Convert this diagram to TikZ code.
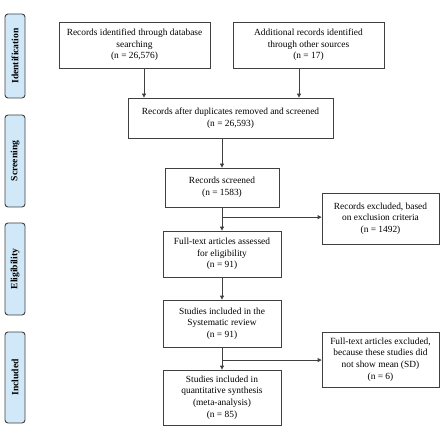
\documentclass[tikz,border=0pt]{standalone}
\usepackage{fontspec}
\setmainfont{Liberation Serif}
\usetikzlibrary{arrows.meta,calc}
\definecolor{sidefill}{HTML}{D0E8F8}
\definecolor{linegray}{HTML}{404040}
\tikzset{
  box/.style={draw=linegray,line width=0.8pt,fill=white,align=center,inner sep=1pt,
    font=\fontsize{9.4}{11.6}\selectfont},
  side/.style={draw=linegray,line width=0.9pt,fill=sidefill,rounded corners=3pt,
    minimum width=20pt,inner sep=0pt},
  sidetext/.style={rotate=90,font=\fontsize{9.6}{10}\selectfont\bfseries},
  arr/.style={draw=linegray,line width=0.8pt,-{Triangle[length=4pt,width=4pt]}},
  ln/.style={draw=linegray,line width=0.8pt}
}
\begin{document}
\begin{tikzpicture}[x=1pt,y=-1pt]
\useasboundingbox (0,0) rectangle (440,428);
% sidebar
\node[side,minimum height=84pt] (s1) at (15,56) {};
\node[sidetext] (t1) at (s1.center) {Identification};
\node[side,minimum height=92pt] (s2) at (15,161) {};
\node[sidetext] (t2) at (s2.center) {Screening};
\node[side,minimum height=92pt] (s3) at (15,269) {};
\node[sidetext] (t3) at (s3.center) {Eligibility};
\node[side,minimum height=91pt] (s4) at (15,377.5) {};
\node[sidetext] (t4) at (s4.center) {Included};
% boxes
\node[box,minimum width=151pt,minimum height=46pt] (b1) at (134.5,45)
  {Records identified through database\\searching\\(n = 26,576)};
\node[box,minimum width=151pt,minimum height=46pt] (b2) at (308.5,45)
  {Additional records identified\\through other sources\\(n = 17)};
\node[box,minimum width=205pt,minimum height=40pt] (b3) at (230.5,118)
  {Records after duplicates removed and screened\\(n = 26,593)};
\node[box,minimum width=114pt,minimum height=39pt] (b4) at (222,187.5)
  {Records screened\\(n = 1583)};
\node[box,minimum width=118pt,minimum height=46pt] (b5) at (222,254)
  {Full-text articles assessed\\for eligibility\\(n = 91)};
\node[box,minimum width=117pt,minimum height=51pt] (b6) at (380.5,218.5)
  {Records excluded, based\\on exclusion criteria\\(n = 1492)};
\node[box,minimum width=118pt,minimum height=47pt] (b7) at (222,323.5)
  {Studies included in the\\Systematic review\\(n = 91)};
\node[box,minimum width=118pt,minimum height=55pt] (b8) at (222,397.5)
  {Studies included in\\quantitative synthesis\\(meta-analysis)\\(n = 85)};
\node[box,minimum width=117pt,minimum height=55pt] (b9) at (380.5,359.5)
  {Full-text articles excluded,\\because these studies did\\not show mean (SD)\\(n = 6)};
% connectors
\draw[arr] ([xshift=9.5pt]b1.south) -- ([xshift=9.5pt]b1.south |- b3.north);
\draw[arr] ([xshift=-9.5pt]b2.south) -- ([xshift=-9.5pt]b2.south |- b3.north);
\draw[arr] (b3.south -| b4.north) -- (b4.north);
\draw[arr] (b4.south) -- (b5.north);
\coordinate (j1) at ($(b4.south)!0.42!(b5.north)$);
\draw[arr] (j1) -- (j1 -| b6.west);
\draw[arr] (b5.south) -- (b7.north);
\draw[arr] (b7.south) -- (b8.north);
\coordinate (j2) at ($(b7.south)!0.57!(b8.north)$);
\draw[arr] (j2) -- (j2 -| b9.west);
\end{tikzpicture}
\end{document}
